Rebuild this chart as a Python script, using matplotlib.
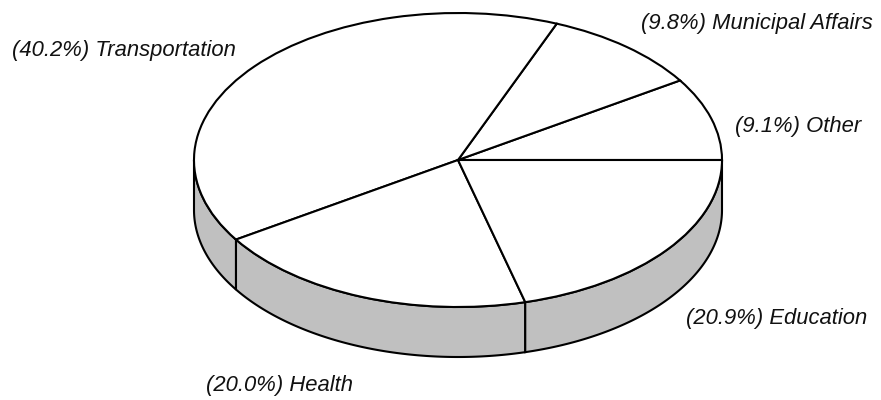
import numpy as np
import matplotlib
matplotlib.use("Agg")
import matplotlib.pyplot as plt
from matplotlib.patches import Polygon

# Budget shares (percent), listed counter-clockwise starting at 3 o'clock
categories = ["Other", "Municipal Affairs", "Transportation", "Health", "Education"]
shares = [9.1, 9.8, 40.2, 20.0, 20.9]

# Label anchors (left edge, baseline) in figure pixels from the top-left
label_pos = {
    "Other": (735, 132),
    "Municipal Affairs": (641, 28.5),
    "Transportation": (12, 56),
    "Health": (206, 391.5),
    "Education": (686, 324),
}

W, H = 881, 400
CX, CY = 458, 160        # centre of the top face, pixels
RX, RY = 264, 147        # semi-axes of the top face, pixels
DEPTH = 50               # thickness of the disc, pixels
LW = 1.5
SIDE = "#c0c0c0"

fig = plt.figure(figsize=(W / 100, H / 100), dpi=100)
ax = fig.add_axes([0, 0, 1, 1])

# Top face: an ordinary pie drawn on a unit circle, stretched by the axis limits
wedges, _ = ax.pie(shares, startangle=0, counterclock=True, radius=1.0,
                   wedgeprops=dict(facecolor="white", edgecolor="black",
                                   linewidth=LW, zorder=3))
ax.set_aspect("auto")
ax.set_xlim((0 - CX) / RX, (W - CX) / RX)
ax.set_ylim((CY - H) / RY, (CY - 0) / RY)
ax.set_axis_off()

# Side wall: visible part of each slice along the front half of the rim
d = DEPTH / RY
bounds = np.concatenate([[0], np.cumsum(shares)]) / 100 * 360
for lo, hi in zip(bounds[:-1], bounds[1:]):
    s, e = max(lo, 180), min(hi, 360)
    if e <= s:
        continue
    t = np.radians(np.linspace(s, e, 200))
    top = np.column_stack([np.cos(t), np.sin(t)])
    bot = np.column_stack([np.cos(t[::-1]), np.sin(t[::-1]) - d])
    ax.add_patch(Polygon(np.vstack([top, bot]), closed=True, facecolor=SIDE,
                         edgecolor="black", linewidth=LW, zorder=2))

# Slice labels
for name, v in zip(categories, shares):
    px, py = label_pos[name]
    fig.text(px / W, 1 - py / H, f"({v:.1f}%) {name}", ha="left", va="baseline",
             fontsize=15.8, fontstyle="italic", family="Liberation Sans",
             color="#111111")

fig.savefig("out.png", dpi=100)
